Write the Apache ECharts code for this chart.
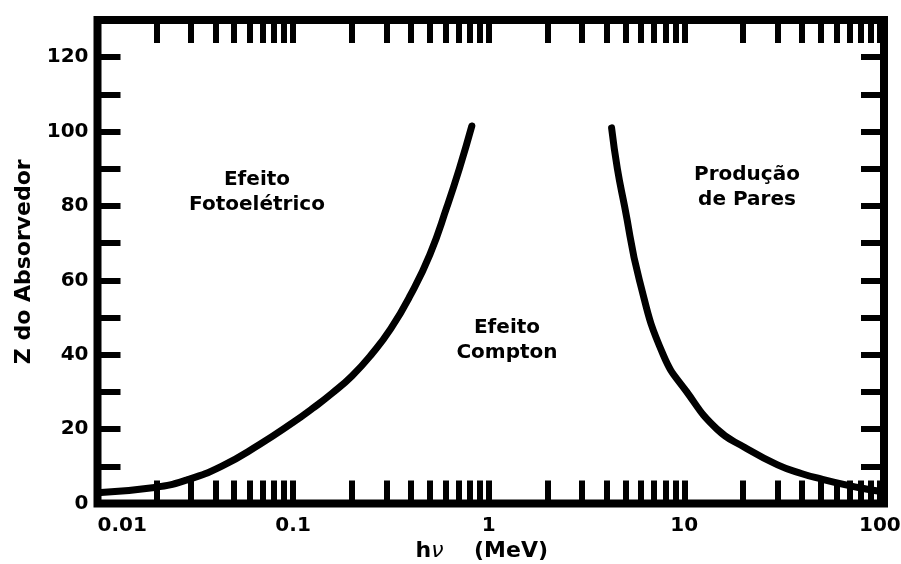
<!DOCTYPE html>
<html><head><meta charset="utf-8">
<script src="https://cdn.jsdelivr.net/npm/echarts@6/dist/echarts.min.js"></script>
<style>html,body{margin:0;padding:0;background:#fff}#c{width:901px;height:564px}</style>
</head><body><div id="c"></div>
<script>
// Photoelectric / Compton boundary (E in MeV, Z)
var photoCompton = [[0.01,2.9],[0.0196,4.3],[0.0285,6.3],[0.043,10],[0.067,15.8],[0.1,21.8],[0.126,25.6],[0.158,29.6],[0.2,34.3],[0.251,40],[0.316,47],[0.398,56],[0.501,67],[0.614,80],[0.708,90],[0.82,101.5]];
// Compton / pair production boundary
var comptonPair = [[4.25,101],[4.55,90],[4.95,80],[5.9,60],[7.8,40],[10.3,30],[14.7,20],[20.5,15],[30,10.4],[40,8],[50,6.6],[67,5],[85,3.9],[100,3.3]];
var xTickValues = [0.01,0.02,0.03,0.04,0.05,0.06,0.07,0.08,0.09,0.1,0.2,0.3,0.4,0.5,0.6,0.7,0.8,0.9,1,2,3,4,5,6,7,8,9,10,20,30,40,50,60,70,80,90,100];
var xLabelValues = [0.01,0.1,1,10,100];
var xLabelTexts = ['0.01','0.1','1','10','100'];
var yLabelMax = 120;
var annotations = ['Efeito\nFotoelétrico','Efeito\nCompton','Produção\nde Pares'];

var FONT = 'DejaVu Sans';
var chart = echarts.init(document.getElementById('c'), null, {renderer:'canvas'});
function xAxisCfg(pos, showLabel){
  return {
    type:'log', logBase:10, min:0.01, max:105, position:pos,
    axisLine:{show:false, onZero:false},
    splitLine:{show:false},
    axisTick:{show:true, inside:true, length:23, lineStyle:{color:'#000', width:6}, customValues:xTickValues},
    axisLabel:{show:showLabel, customValues:xLabelValues, color:'#000', fontFamily:FONT, fontWeight:'bold', fontSize:20, margin:12,
      alignMinLabel:'left', showMaxLabel:true,
      formatter:function(v){ var i=-1; for(var k=0;k<xLabelValues.length;k++){ if(Math.abs(Math.log10(v)-Math.log10(xLabelValues[k]))<1e-6) i=k; } return i>=0?xLabelTexts[i]:''; }},
    name: showLabel ? '{h|h}{nu|ν}{m|    (MeV)}' : '',
    nameLocation:'middle', nameGap:30,
    nameTextStyle:{rich:{h:{fontFamily:FONT,fontWeight:'bold',fontSize:22,color:'#000'},nu:{fontFamily:FONT,fontStyle:'italic',fontSize:22,color:'#000'},m:{fontFamily:FONT,fontWeight:'bold',fontSize:22,color:'#000',padding:[0,18,0,0]}}}
  };
}
function yAxisCfg(pos, showLabel){
  return {
    type:'value', min:0, max:130, interval:10, position:pos,
    axisLine:{show:false, onZero:false}, splitLine:{show:false},
    axisTick:{show:true, inside:true, length:23, lineStyle:{color:'#000', width:6}},
    axisLabel:{show:showLabel, color:'#000', fontFamily:FONT, fontWeight:'bold', fontSize:20, margin:9,
      formatter:function(v){ return (v%20===0 && v<=yLabelMax) ? String(v) : ''; }},
    name: showLabel ? 'Z do Absorvedor' : '',
    nameLocation:'middle', nameGap:62, nameRotate:90,
    nameTextStyle:{fontFamily:FONT, fontWeight:'bold', fontSize:22, color:'#000'}
  };
}
var option = {
  animation:false,
  grid:{left:97.5, right:17, top:20, bottom:60.5, show:true, borderColor:'#000', borderWidth:8, backgroundColor:'transparent', containLabel:false, outerBoundsMode:'none'},
  xAxis:[xAxisCfg('bottom', true), xAxisCfg('top', false)],
  yAxis:[yAxisCfg('left', true), yAxisCfg('right', false)],
  series:[
    {type:'line', data:photoCompton, smooth:true, symbol:'none', lineStyle:{color:'#000', width:7, cap:'round'}, clip:true},
    {type:'line', data:comptonPair, smooth:true, symbol:'none', lineStyle:{color:'#000', width:7, cap:'round'}, clip:true}
  ],
  graphic:[
    {type:'text', x:257, y:167, style:{text:annotations[0], font:'bold 20px "DejaVu Sans"', fill:'#000', align:'center', lineHeight:25}},
    {type:'text', x:507, y:315, style:{text:annotations[1], font:'bold 20px "DejaVu Sans"', fill:'#000', align:'center', lineHeight:25}},
    {type:'text', x:747, y:162, style:{text:annotations[2], font:'bold 20px "DejaVu Sans"', fill:'#000', align:'center', lineHeight:25}}
  ]
};
chart.setOption(option);
</script></body></html>
